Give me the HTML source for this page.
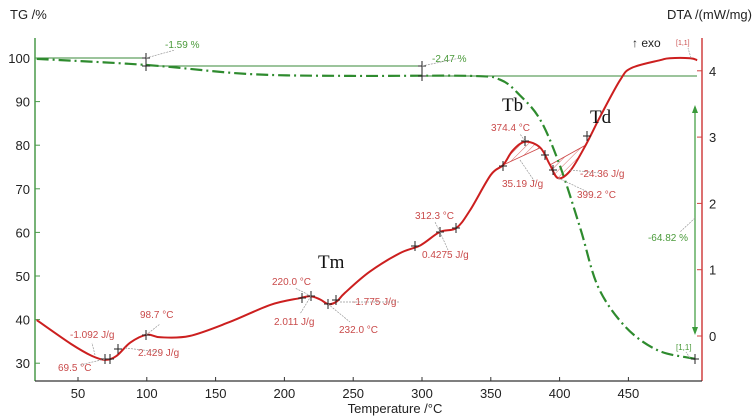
<!DOCTYPE html>
<html><head><meta charset="utf-8"><style>
html,body{margin:0;padding:0;background:#fff;}
svg{display:block;font-family:"Liberation Sans",sans-serif;}
</style></head><body>
<svg id="chart" width="754" height="420" viewBox="0 0 754 420" xmlns="http://www.w3.org/2000/svg">
<defs>
<pattern id="hatch" width="5" height="5" patternUnits="userSpaceOnUse" patternTransform="rotate(45)">
<line x1="0" y1="0" x2="0" y2="5" stroke="#c44" stroke-width="0.8"/>
</pattern>
</defs>
<text x="10" y="19" font-size="13" fill="#222">TG /%</text>
<text x="752" y="19" font-size="13" fill="#222" text-anchor="end">DTA /(mW/mg)</text>
<text x="395" y="413" font-size="13" fill="#222" text-anchor="middle">Temperature /°C</text>
<g id="axes"></g>
<g id="marks"></g>
<g id="ann"></g>
</svg>
<script>
const xTicks=[50,100,150,200,250,300,350,400,450];
const tgTicks=[30,40,50,60,70,80,90,100];
const dtaTicks=[0,1,2,3,4];
const dtaT=[20,45,60,70,78,88,100,110,131,160,190,211,219,226,232,238,244,262,284,299,313,325,335,350,359,366,375,386,393,399,408,419,430,444,452,473,480,495,500];
const dtaV=[0.24,-0.12,-0.3,-0.36,-0.3,-0.1,0.02,-0.02,0,0.21,0.47,0.57,0.6,0.55,0.48,0.52,0.65,0.97,1.25,1.37,1.57,1.63,1.9,2.43,2.58,2.8,2.93,2.84,2.58,2.38,2.5,2.88,3.33,3.86,4.04,4.16,4.19,4.19,4.16];
const tgT=[20,100,175,248,335,357,371,386,400,415,428,448,471,495,500];
const tgV=[99.8,98.4,96.3,95.9,95.9,95.0,91.5,85.8,75.5,61,47.5,38.3,33,31.2,31];

const X=t=>78+(t-50)*1.376;
const YL=v=>58+(100-v)*4.36;
const YR=d=>336-d*66.3;
const NS="http://www.w3.org/2000/svg";
function mk(tag,attrs,parent){const e=document.createElementNS(NS,tag);for(const k in attrs)e.setAttribute(k,attrs[k]);parent.appendChild(e);return e;}
function path(pts){let d="M"+pts[0][0].toFixed(1)+","+pts[0][1].toFixed(1);
for(let i=0;i<pts.length-1;i++){const p0=pts[i-1]||pts[i],p1=pts[i],p2=pts[i+1],p3=pts[i+2]||p2;
d+=" C"+(p1[0]+(p2[0]-p0[0])/6).toFixed(1)+","+(p1[1]+(p2[1]-p0[1])/6).toFixed(1)+" "+(p2[0]-(p3[0]-p1[0])/6).toFixed(1)+","+(p2[1]-(p3[1]-p1[1])/6).toFixed(1)+" "+p2[0].toFixed(1)+","+p2[1].toFixed(1);}
return d;}
const ax=document.getElementById('axes'),mg=document.getElementById('marks'),an=document.getElementById('ann');
let l=mk('line',{x1:35,y1:38,x2:35,y2:381,stroke:'#4a9a4a','stroke-width':1.5},ax);

l=mk('line',{x1:702,y1:38,x2:702,y2:381,stroke:'#d04040','stroke-width':1.5},ax);

l=mk('line',{x1:35,y1:381,x2:702,y2:381,stroke:'#333','stroke-width':1.2},ax);

xTicks.forEach(t=>{mk('line',{x1:X(t),y1:377,x2:X(t),y2:381,stroke:'#333'},ax);
const tx=mk('text',{x:X(t),y:398,'font-size':13,'text-anchor':'middle',fill:'#222'},ax);tx.textContent=t;
});
tgTicks.forEach(v=>{mk('line',{x1:35,y1:YL(v),x2:40,y2:YL(v),stroke:'#4a9a4a'},ax);
const tx=mk('text',{x:30,y:YL(v)+5,'font-size':13,'text-anchor':'end',fill:'#222'},ax);tx.textContent=v;
});
dtaTicks.forEach(v=>{mk('line',{x1:697,y1:YR(v),x2:702,y2:YR(v),stroke:'#d04040'},ax);
const tx=mk('text',{x:709,y:YR(v)+5,'font-size':13,fill:'#222'},ax);tx.textContent=v;
});
let s=mk('path',{d:'M38,58 H146 V66 H422 V76 H697',fill:'none',stroke:'#3a8a3a','stroke-width':1},mg);

s=mk('line',{x1:695,y1:107,x2:695,y2:333,stroke:'#3a9a3a','stroke-width':1.2},mg);

mk('path',{d:'M692,113 L695,105 L698,113 Z M692,327 L695,335 L698,327 Z',fill:'#3a9a3a'},mg);
const base1=[[X(359),YR(2.58)],[X(386),YR(2.84)]];
let pk=dtaT.map((t,i)=>[X(t),YR(dtaV[i])]).filter((p,i)=>dtaT[i]>=359&&dtaT[i]<=386);
let h=mk('path',{d:path(pk)+' Z',fill:'url(#hatch)',stroke:'none'},mg);

mk('line',{x1:base1[0][0],y1:base1[0][1],x2:base1[1][0],y2:base1[1][1],stroke:'#c44','stroke-width':0.8},mg);
let pk2=dtaT.map((t,i)=>[X(t),YR(dtaV[i])]).filter((p,i)=>dtaT[i]>=393&&dtaT[i]<=419);
h=mk('path',{d:path(pk2)+' Z',fill:'url(#hatch)',stroke:'#c44','stroke-width':0.8},mg);

const tgp=mk('path',{d:path(tgT.map((t,i)=>[X(t),YL(tgV[i])])),fill:'none',stroke:'#2e8b2e','stroke-width':2.2,'stroke-dasharray':'12,4,2,4'},mg);

const dp=mk('path',{d:path(dtaT.map((t,i)=>[X(t),YR(dtaV[i])])),fill:'none',stroke:'#cc1f1f','stroke-width':2},mg);

[[146,58],[146,66],[422,66],[422,76],[695,359],[105,359],[110,359],[118,349],[146,335],[311,296],[302,298],[328,304],[336,300],[415,246],[440,232],[456,228],[503,166],[525,141],[545,155],[553,170],[587,136]].forEach(p=>{
mk('path',{d:`M${p[0]-4},${p[1]} H${p[0]+4} M${p[0]},${p[1]-5} V${p[1]+5}`,stroke:'#222','stroke-width':1},mg);});
const lab=(x,y,t,c,sz,nm,anc,ff)=>{const e=mk('text',{x:x,y:y,'font-size':sz,fill:c,'text-anchor':anc||'start'},an);e.textContent=t;
if(ff)e.setAttribute('font-family',ff);
};
const R='#c94a4a',G='#4a9a3a',SER='"Liberation Serif",serif';
lab(165,48,'-1.59 %',G,10,'label-tg-step1');lab(432,62,'-2.47 %',G,10,'label-tg-step2');
lab(688,241,'-64.82 %',G,10,'label-mass-loss','end');lab(676,350,'[1,1]',G,8,'label-tg-end');
lab(632,47,'↑ exo','#222',12,'exo-label');lab(676,45,'[1,1]',R,7,'label-dta-end');
lab(502,111,'Tb','#111',19,'label-tb','start',SER);lab(590,123,'Td','#111',19,'label-td','start',SER);lab(318,268,'Tm','#111',19,'label-tm','start',SER);
lab(491,131,'374.4 °C',R,10,'label-peak-tb');lab(502,187,'35.19 J/g',R,10,'label-area-tb');
lab(580,177,'-24.36 J/g',R,10,'label-area-td');lab(577,198,'399.2 °C',R,10,'label-peak-td');
lab(415,219,'312.3 °C',R,10,'label-312');lab(422,258,'0.4275 J/g',R,10,'label-area-312');
lab(272,285,'220.0 °C',R,10,'label-220');lab(274,325,'2.011 J/g',R,10,'label-area-220');
lab(339,333,'232.0 °C',R,10,'label-232');lab(352,305,'-1.775 J/g',R,10,'label-area-232');
lab(140,318,'98.7 °C',R,10,'label-98');lab(138,356,'2.429 J/g',R,10,'label-area-98');
lab(70,338,'-1.092 J/g',R,10,'label-area-69');lab(58,371,'69.5 °C',R,10,'label-69');
[[146,58,175,50],[422,66,460,58],[695,218,680,232],[690,358,686,352],[691,58,688,48],[525,141,520,134],[520,160,535,182],[570,170,600,173],[558,178,590,193],[440,232,435,222],[440,232,448,250],[311,296,295,288],[311,296,300,314],[328,304,350,322],[340,302,400,302],[146,335,160,324],[125,348,160,352],[95,355,92,343],[105,359,80,365]].forEach(a=>{
mk('line',{x1:a[0],y1:a[1],x2:a[2],y2:a[3],stroke:'#999','stroke-width':0.7,'stroke-dasharray':'2,1'},an);});
</script>
</body></html>
